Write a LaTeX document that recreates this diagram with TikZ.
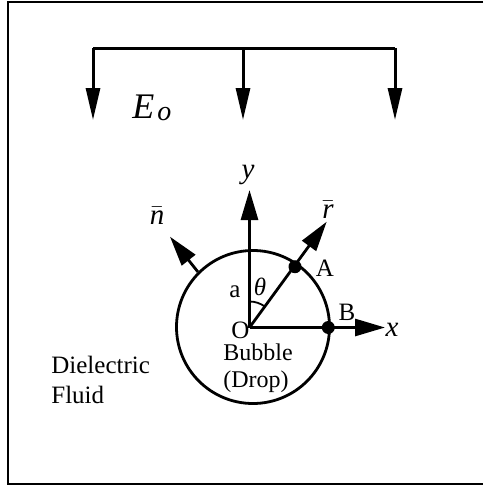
\documentclass[tikz,border=0pt]{standalone}
\usepackage{fontspec}
\setmainfont{Liberation Serif}
\usetikzlibrary{arrows.meta, angles}

\tikzset{
  fieldarrow/.style={line width=1.5pt, -{Triangle[length=16pt, width=7pt]}},
  axisarrow/.style={line width=1.4pt, -{Triangle[length=15pt, width=8.5pt]}},
  pointdot/.style={circle, fill=black, inner sep=0pt, minimum size=6.5pt},
  lbl/.style={inner sep=0pt, font=\fontsize{12.5}{14}\selectfont},
  var/.style={inner sep=0pt, font=\fontsize{14.5}{16}\selectfont\itshape},
  txt/.style={inner sep=0pt, font=\fontsize{12.5}{15}\selectfont, anchor=base west},
}

\begin{document}
\begin{tikzpicture}[x=0.5pt, y=-0.5pt]
        \useasboundingbox (0,0) rectangle (483,488);
        \draw[line width=1.3pt] (483,2) -- (8,2) -- (8,484) -- (483,484);
        % applied field
        \draw[line width=1.5pt] (93,48) -- (395,48);
        \foreach \x [count=\i] in {93,243,395} {
          \coordinate (ftop\i) at (\x,48);
          \coordinate (ftip\i) at (\x,120);
          \draw[fieldarrow] (ftop\i) -- (ftip\i);
        }
        \node[anchor=base west, inner sep=0pt, font=\fontsize{18}{20}\selectfont\itshape] (field) at (132,118)
          {E\kern1.5pt\raisebox{-1pt}{\fontsize{14}{14}\selectfont o}};
        % bubble and axes
        \node[circle, draw, line width=1.4pt, minimum size=76.5pt, inner sep=0pt] (bubble) at (253,327) {};
        \coordinate (O) at (249.5,327.5);
        \coordinate (ytip) at (249.5,190);
        \coordinate (xtip) at (385,327.5);
        \coordinate (rtip) at (326.7,221.7);
        \coordinate (ntip) at (170,236.7);
        \node[pointdot] (A) at (295,266.7) {};
        \node[pointdot] (B) at (328.3,327.5) {};
        \draw[axisarrow] (O) -- (ytip);
        \draw[axisarrow] (O) -- (xtip);
        \draw[axisarrow] (O) -- (rtip);
        \draw[axisarrow] (bubble.135) -- (ntip);
        \pic[draw, line width=0.9pt, angle radius=13pt] {angle = A--O--ytip};
        % labels
        \node[var] (ylbl) at (248,175) {y};
        \node[var] (xlbl) at (392,330) {x};
        \node[var] (nlbl) at (157,216) {$\bar{\textit{n}}$};
        \node[var] (rlbl) at (328,210) {$\bar{\textit{r}}$};
        \node[lbl] (Albl) at (325,268) {A};
        \node[lbl] (Blbl) at (347,312) {B};
        \node[lbl] (albl) at (235,292) {a};
        \node[var, font=\fontsize{12.5}{14}\selectfont\itshape] (thlbl) at (260,287) {θ};
        \node[lbl] (Olbl) at (240.5,330) {O};
        \node[lbl, anchor=base, font=\fontsize{12}{14}\selectfont] (bub) at (258,360) {Bubble};
        \node[lbl, anchor=base, font=\fontsize{12}{14}\selectfont] (drop) at (256,387) {(Drop)};
        \node[txt] (diel) at (51,373) {Dielectric};
        \node[txt] (fluid) at (51,403) {Fluid};
      \end{tikzpicture}
\end{document}
